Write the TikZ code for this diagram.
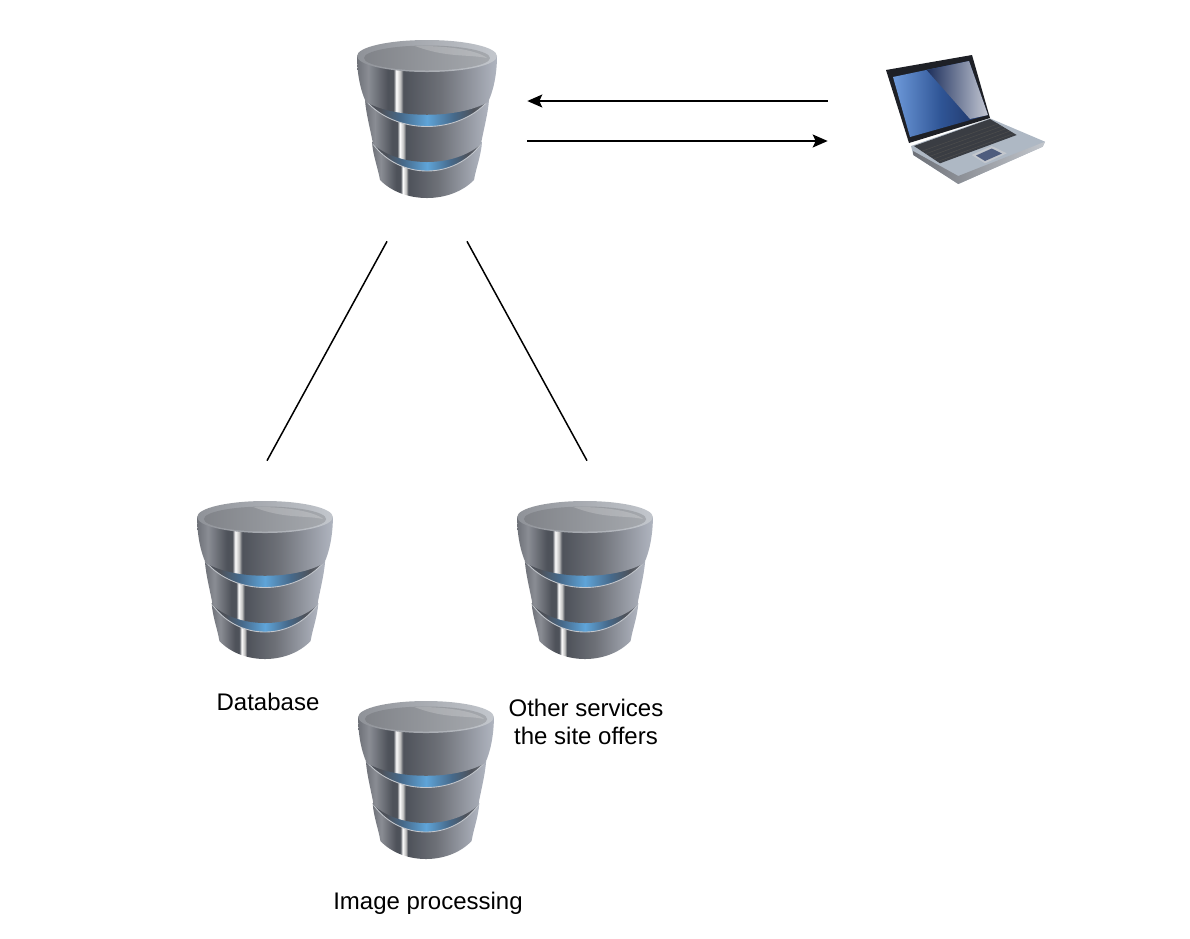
\documentclass[tikz,border=0pt]{standalone}
\usepackage{fontspec}
\setmainfont{Liberation Sans}
\usetikzlibrary{arrows.meta,calc}
\definecolor{rimgray}{HTML}{C3C7CD}
\definecolor{rimdark}{HTML}{8F9298}
\definecolor{slatedark}{HTML}{4E525A}
\definecolor{slatemid}{HTML}{8A8D94}
\definecolor{slateedge}{HTML}{6E7178}
\definecolor{slatelight}{HTML}{B0B5C0}
\definecolor{glowblue}{HTML}{5FA4D8}
\definecolor{glowdim}{HTML}{46698A}
\definecolor{lidblack}{HTML}{1E2026}
\definecolor{basesilver}{HTML}{AEB8C4}
\definecolor{keydark}{HTML}{3A3D43}
\definecolor{screenlight}{HTML}{6E9ADA}
\definecolor{screenmid}{HTML}{2F5596}
\definecolor{screendark}{HTML}{1D2F5C}
\definecolor{screenglare}{HTML}{C4C8D4}
\pgfdeclarehorizontalshading{cylbody}{100bp}{color(0bp)=(slateedge);
  color(25bp)=(slateedge); color(29bp)=(slatemid); color(36bp)=(slatedark);
  color(38bp)=(slatedark); color(39bp)=(white); color(40.5bp)=(white!75!black);
  color(41.5bp)=(slatedark); color(55bp)=(slateedge); color(75bp)=(slatelight);
  color(100bp)=(slatelight)}
\pgfdeclarehorizontalshading{bandglow}{100bp}{color(0bp)=(slatedark);
  color(25bp)=(slatedark); color(31bp)=(slatedark); color(39bp)=(glowdim); color(50bp)=(glowblue);
  color(61bp)=(glowdim); color(69bp)=(slatedark); color(75bp)=(slateedge); color(100bp)=(slateedge)}
\tikzset{
  iconbox/.style={minimum width=4cm,minimum height=4cm,inner sep=0pt},
  textlabel/.style={font=\fontsize{13.66}{15.9}\selectfont,align=center,inner sep=0pt},
  linkline/.style={draw=black,line width=0.03cm},
  linkarrow/.style={linkline,-{Stealth[length=0.3cm,width=0.26cm,inset=0.06cm]}},
  dbicon/.pic={
    \foreach \xa/\ya/\xb/\yb/\lift/\xc/\yc/\dip in {55/22/47/60/24/54/24/36,62/-20/54/24/24/61/-19/34}{
      \shade[shading=cylbody] (-\xa,\ya) .. controls (-\xa+1,\ya+14) and (-\xb-2,\yb-12) .. (-\xb,\yb) .. controls (-0.5*\xb,\yb+\lift) and (0.5*\xb,\yb+\lift) .. (\xb,\yb) .. controls (\xb+2,\yb-12) and (\xa-1,\ya+14) .. (\xa,\ya) -- cycle;
      \shade[shading=bandglow,draw=rimgray,line width=0.5pt] (-\xc,\yc) .. controls (-0.5*\xc,\yc+\dip) and (0.5*\xc,\yc+\dip) .. (\xc,\yc) -- cycle;
    }
    \shade[shading=cylbody] (-70,-64) .. controls (-70,-45) and (-66,-28) .. (-61,-18) .. controls (-31,-1) and (31,-1) .. (61,-18) .. controls (66,-28) and (70,-45) .. (70,-64) -- cycle;
    \shade[left color=rimdark,right color=rimgray] (0,-64) ellipse [x radius=70,y radius=16];
    \shade[left color=rimdark!90!black,right color=rimgray!85!black] (0,-62) ellipse [x radius=63,y radius=12.5];
    \fill[white,opacity=0.2] (-12,-74) .. controls (20,-74.5) and (50,-70) .. (60,-62) .. controls (40,-66) and (20,-62) .. (-12,-74);
  }
}
\begin{document}
\begin{tikzpicture}[x=0.02cm,y=-0.02cm]
  \useasboundingbox (0,0) rectangle (1190,938);
  % icon boxes
  \node[iconbox] (server) at (427,141) {};
  \node[iconbox] (database) at (267,561) {};
  \node[iconbox] (services) at (587,561) {};
  \node[iconbox] (imaging) at (427,761) {};
  \node[iconbox,minimum width=5.48cm] (laptop) at (965,141) {};
  \pic at (427,120) {dbicon};
  \pic[xscale=0.97] at (265,581) {dbicon};
  \pic[xscale=0.97] at (585,581) {dbicon};
  \pic[xscale=0.97] at (426,781) {dbicon};
  % laptop
  \fill[basesilver] (911,146) -- (990,118.3) -- (1045,141.7) -- (1042.7,146.7) -- (958.3,184) -- (913.3,155) -- cycle;
  \shade[left color=slateedge,right color=rimgray] (913,151) -- (958.3,176) -- (1045,141.7) -- (1042.7,146.7) -- (958.3,184) -- (913.3,155) -- cycle;
  \fill[keydark] (914,146) -- (990,119) -- (1016.7,135) -- (940,163.3) -- cycle;
  \foreach \t in {0.3,0.45,0.6,0.75,0.9}{
    \draw[black!70!white,line width=0.3pt] ($(914,146)!\t!(940,163.3)$) -- ($(990,119)!\t!(1016.7,135)$);
  }
  \fill[rimgray] (971.7,155) -- (991.7,146) -- (1006.7,153.3) -- (985,163.3) -- cycle;
  \fill[screendark!70!rimgray] (976,155.5) -- (991.7,148.5) -- (1002,153.5) -- (985,161) -- cycle;
  \fill[lidblack] (886,70) -- (972,55) -- (990,118) -- (909,143) -- cycle;
  \shade[shading angle=25,left color=screenlight,right color=screendark,middle color=screenmid] (893,77) -- (969,61) -- (988,115) -- (910,137) -- cycle;
  \shade[shading angle=35,left color=screendark,right color=screenglare] (926.7,70) -- (969,61) -- (988,115) -- (970,119) -- cycle;
  % links
  \draw[linkarrow] ([yshift=0.8cm]laptop.west) -- ([yshift=0.8cm]server.east);
  \draw[linkarrow] (server.east) -- (laptop.west);
  \draw[linkline] ([xshift=-0.8cm]server.south) -- (database.north);
  \draw[linkline] ([xshift=0.8cm]server.south) -- (services.north);
  % labels
  \node[textlabel] (dblabel) at (268,702) {Database};
  \node[textlabel] (serviceslabel) at (586,722) {Other services\\the site offers};
  \node[textlabel] (imagelabel) at (428,903) {Image processing};
\end{tikzpicture}
\end{document}
